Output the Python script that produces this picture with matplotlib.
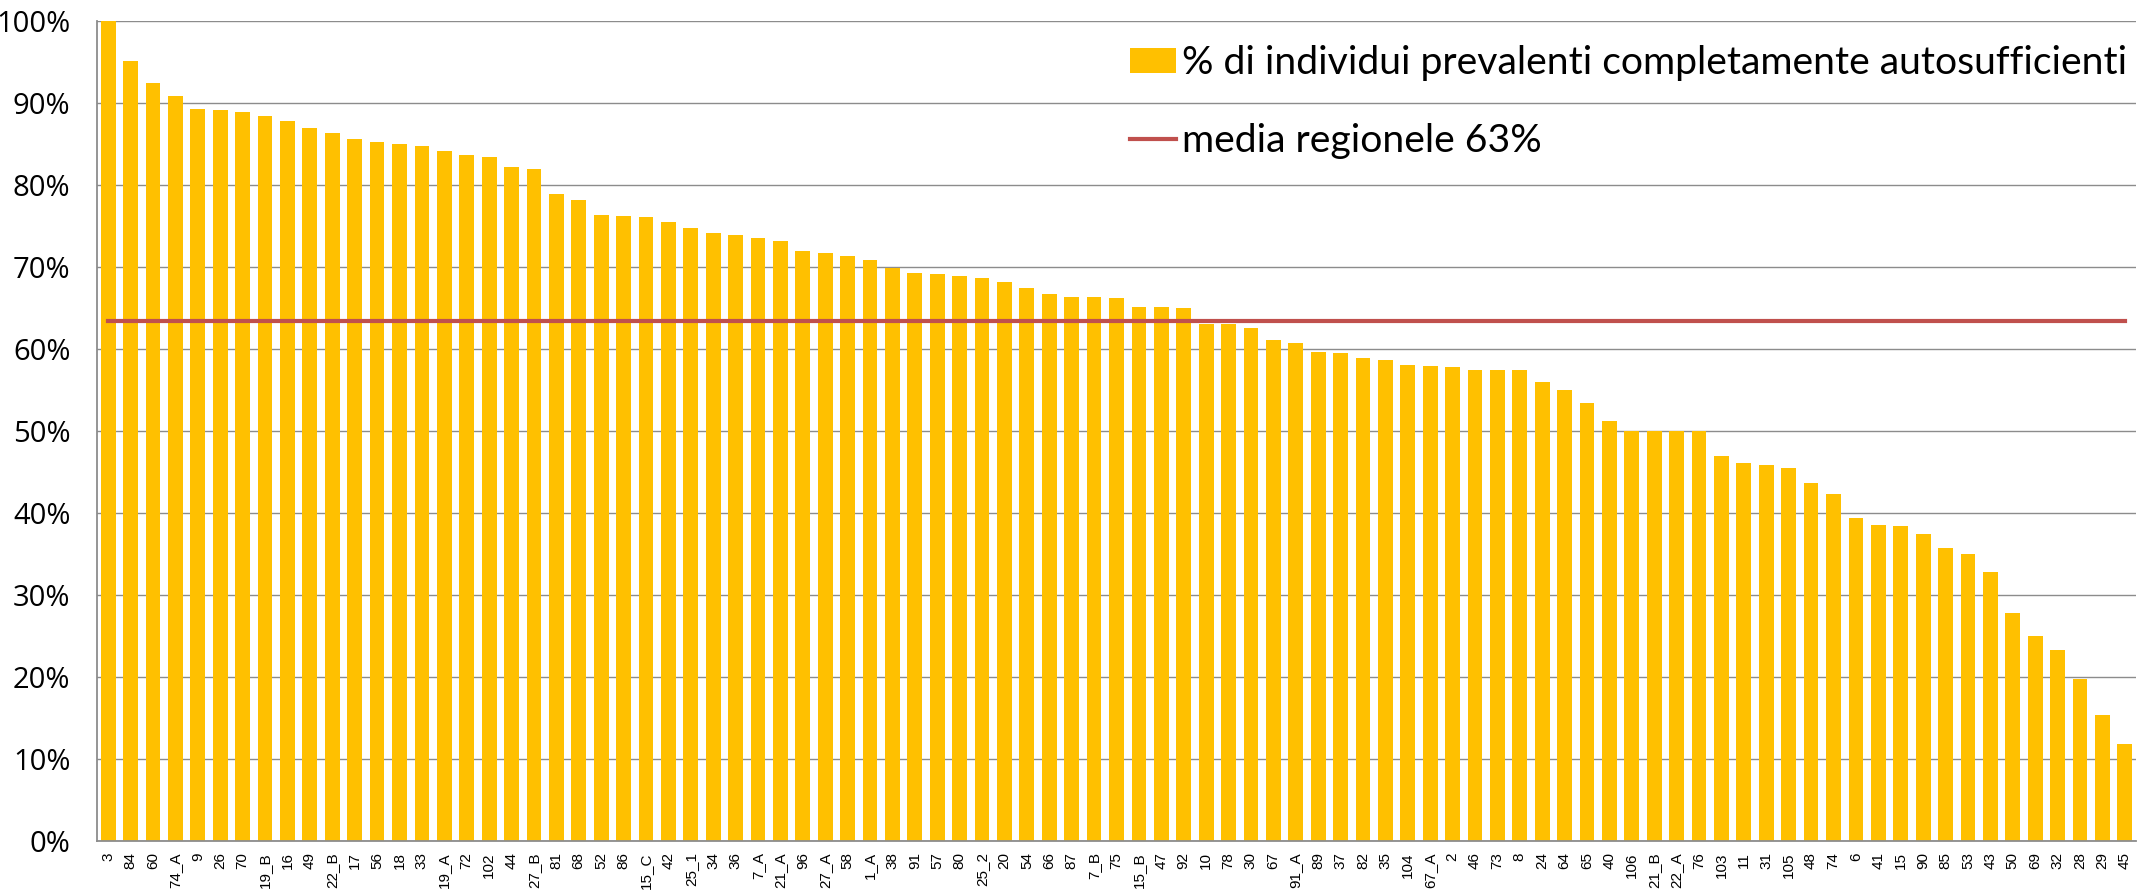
"""
Quota di individui prevalenti completamente autosufficienti per distretto
"""

import matplotlib
matplotlib.use('Agg')
import matplotlib.pyplot as plt
from matplotlib.ticker import FuncFormatter, MultipleLocator

plt.rcParams['font.family'] = ['Open Sans', 'DejaVu Sans']

DISTRICTS = [
    "3", "84", "60", "74_A", "9", "26", "70", "19_B", "16", "49",
    "22_B", "17", "56", "18", "33", "19_A", "72", "102", "44", "27_B",
    "81", "68", "52", "86", "15_C", "42", "25_1", "34", "36", "7_A",
    "21_A", "96", "27_A", "58", "1_A", "38", "91", "57", "80", "25_2",
    "20", "54", "66", "87", "7_B", "75", "15_B", "47", "92", "10",
    "78", "30", "67", "91_A", "89", "37", "82", "35", "104", "67_A",
    "2", "46", "73", "8", "24", "64", "65", "40", "106", "21_B",
    "22_A", "76", "103", "11", "31", "105", "48", "74", "6", "41",
    "15", "90", "85", "53", "43", "50", "69", "32", "28", "29", "45",
]

PCT_AUTOSUFF = [
    100.0, 95.1, 92.5, 90.8, 89.3, 89.1, 88.9, 88.4, 87.8, 86.9,
    86.4, 85.6, 85.2, 85.0, 84.7, 84.1, 83.7, 83.4, 82.2, 81.9,
    78.9, 78.2, 76.3, 76.2, 76.1, 75.5, 74.7, 74.1, 73.9, 73.5,
    73.2, 72.0, 71.7, 71.4, 70.8, 69.9, 69.3, 69.2, 68.9, 68.7,
    68.2, 67.5, 66.7, 66.4, 66.3, 66.2, 65.1, 65.1, 65.0, 63.1,
    63.0, 62.6, 61.1, 60.7, 59.6, 59.5, 58.9, 58.7, 58.0, 57.9,
    57.8, 57.5, 57.4, 57.4, 56.0, 55.0, 53.4, 51.2, 50.0, 50.0,
    50.0, 50.0, 47.0, 46.1, 45.8, 45.5, 43.6, 42.3, 39.4, 38.5,
    38.4, 37.5, 35.7, 35.0, 32.8, 27.8, 25.0, 23.3, 19.7, 15.4, 11.8,
]

MEDIA_REGIONALE = 63.4

BAR_COLOR = '#FFC000'
LINE_COLOR = '#C0504D'
GRID_COLOR = '#8C8C8C'

W, H = 2145, 890

fig = plt.figure(figsize=(W / 100, H / 100), dpi=100)
ax = fig.add_axes([97 / W, 1 - 841 / H, (2136 - 97) / W, (841 - 21) / H])

x = list(range(len(DISTRICTS)))
bars = ax.bar(x, PCT_AUTOSUFF, width=0.66, color=BAR_COLOR, zorder=2,
              label='% di individui prevalenti completamente autosufficienti')
line, = ax.plot(x, [MEDIA_REGIONALE] * len(x), color=LINE_COLOR, lw=3, zorder=3,
                label='media regionele 63%')

ax.set_xlim(-0.5, len(x) - 0.5)
ax.set_ylim(0, 100)
ax.yaxis.set_major_locator(MultipleLocator(10))
ax.yaxis.set_major_formatter(FuncFormatter(lambda v, p: f"{v:.0f}%"))
ax.grid(axis='y', color=GRID_COLOR, lw=1.0, zorder=0)

ax.set_xticks(x)
ax.set_xticklabels(DISTRICTS, rotation=90, fontsize=11,
                   family=['Liberation Sans', 'DejaVu Sans'])
ax.tick_params(axis='x', length=0, pad=8)
ax.tick_params(axis='y', length=0, pad=19, labelsize=21)

for side in ('top', 'right'):
    ax.spines[side].set_visible(False)
for side in ('left', 'bottom'):
    ax.spines[side].set_color(GRID_COLOR)
    ax.spines[side].set_linewidth(1.3)

leg = ax.legend(handles=[bars, line], loc='upper left',
                bbox_to_anchor=(1130 / W, 1 - 45 / H),
                bbox_transform=fig.transFigure, frameon=False,
                prop={'family': ['Lato', 'DejaVu Sans'], 'size': 28.2},
                handlelength=1.18, handleheight=0.62, handletextpad=0.15,
                labelspacing=1.07, borderaxespad=0, borderpad=0)

fig.savefig('out.png', dpi=100)
